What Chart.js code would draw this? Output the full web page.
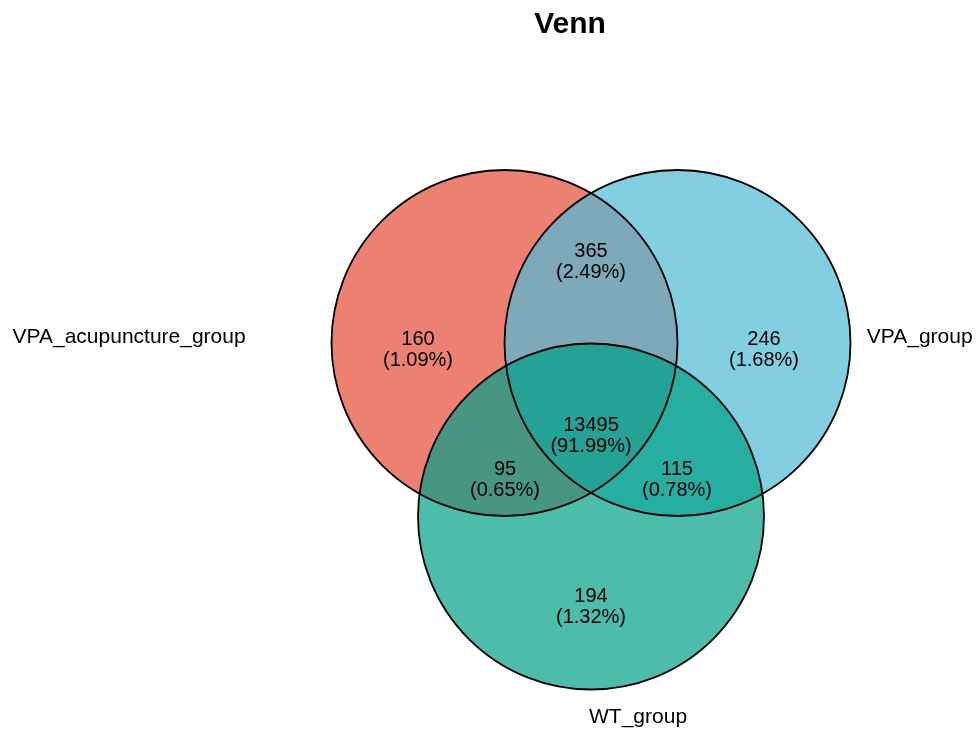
<!DOCTYPE html>
<html>
<head>
<meta charset="utf-8">
<script src="https://cdn.jsdelivr.net/npm/chart.js@4/dist/chart.umd.min.js"></script>
<style>
  html, body { margin: 0; padding: 0; background: #fff; }
  #wrap { width: 976px; height: 729px; }
</style>
</head>
<body>
<div id="wrap"><canvas id="venn-chart" width="976" height="729"></canvas></div>
<script>
// Dati
var titolo = 'Venn';
var gruppi = ['VPA_acupuncture_group', 'VPA_group', 'WT_group'];
var colori = ['rgba(230,75,53,0.7)', 'rgba(77,187,213,0.7)', 'rgba(0,160,135,0.7)'];
// centri dei cerchi (unita' = raggio)
var centri_x = [-0.5, 0.5, 0];
var centri_y = [0, 0, -1.003];
var raggio = 1;
// posizione etichette dei gruppi
var etichette_x = [-2.67, 1.90, 0.272];
var etichette_y = [0.035, 0.035, -2.162];
// regioni: solo A, A∩B, solo B, A∩B∩C, A∩C, B∩C, solo C
var regioni_n = [160, 365, 246, 13495, 95, 115, 194];
var regioni_x = [-1.0, 0, 1.0, 0, -0.497, 0.497, 0];
var regioni_y = [-0.038, 0.471, -0.038, -0.535, -0.790, -0.790, -1.526];

var totale = regioni_n.reduce(function(a, b){ return a + b; }, 0);

var punti = [];
for (var i = 0; i < gruppi.length; i++) {
	punti.push({ x: centri_x[i], y: centri_y[i] });
}

var raggioPx = function(ctx){
	var s = ctx.chart.scales && ctx.chart.scales.x;
	if (!s) { return 0; }
	var r = Math.abs(s.getPixelForValue(raggio) - s.getPixelForValue(0));
	return isFinite(r) ? r : 0;
};

// Testi (titolo, conteggi, nomi)
var testiPlugin = {
	id: 'testi',
	afterDatasetsDraw: function(chart){
		var c = chart.ctx, sx = chart.scales.x, sy = chart.scales.y;
		c.save();
		c.fillStyle = '#000';
		c.textAlign = 'center';
		c.textBaseline = 'middle';

		c.font = 'bold 30px "Liberation Sans", Arial, sans-serif';
		c.fillText(titolo, sx.getPixelForValue(-0.121), sy.getPixelForValue(1.838));

		c.font = '20px "Liberation Sans", Arial, sans-serif';
		for (var i = 0; i < regioni_n.length; i++) {
			var px = sx.getPixelForValue(regioni_x[i]);
			var py = sy.getPixelForValue(regioni_y[i]);
			var pct = (regioni_n[i] / totale * 100).toFixed(2) + '%';
			c.fillText(String(regioni_n[i]), px, py - 10.5);
			c.fillText('(' + pct + ')', px, py + 10.5);
		}

		c.font = '21px "Liberation Sans", Arial, sans-serif';
		for (var j = 0; j < gruppi.length; j++) {
			c.fillText(gruppi[j], sx.getPixelForValue(etichette_x[j]), sy.getPixelForValue(etichette_y[j]));
		}
		c.restore();
	}
};

var ctx = document.getElementById('venn-chart').getContext('2d');
var vennChart = new Chart(ctx, {
	type: 'scatter',
	data: {
		datasets: [{
			label: 'bordi',
			data: punti,
			pointBackgroundColor: 'rgba(0,0,0,0)',
			pointBorderColor: '#000',
			pointBorderWidth: 1.8,
			pointRadius: raggioPx,
			clip: false
		}, {
			label: 'insiemi',
			data: punti,
			pointBackgroundColor: colori,
			pointBorderWidth: 0,
			pointRadius: raggioPx,
			clip: false
		}]
	},
	options: {
		responsive: false,
		animation: false,
		events: [],
		layout: { padding: 0, autoPadding: false },
		plugins: {
			legend: { display: false },
			tooltip: { enabled: false },
			title: { display: false }
		},
		scales: {
			x: { type: 'linear', display: false, min: -591 / 173, max: 385 / 173 },
			y: { type: 'linear', display: false, min: -386 / 173, max: 343 / 173 }
		}
	},
	plugins: [testiPlugin]
});
</script>
</body>
</html>
